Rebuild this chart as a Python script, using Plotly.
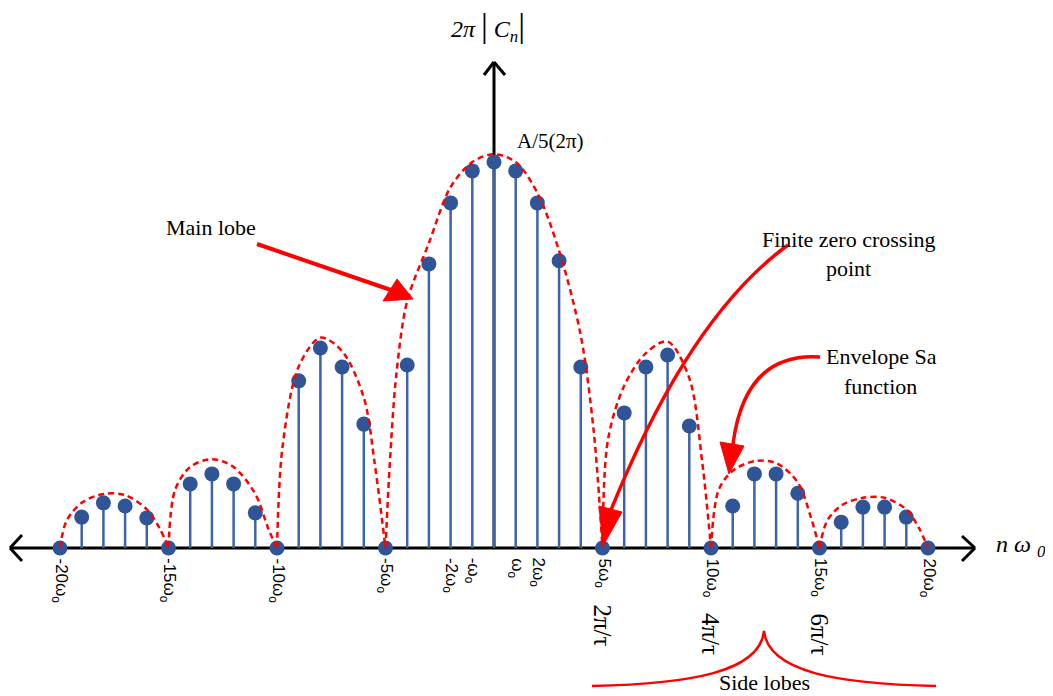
import plotly.graph_objects as go

# ---------------- data ----------------
harmonics = [-19, -18, -17, -16, -14, -13, -12, -11, -9, -8, -7, -6,
             -4, -3, -2, -1, 0, 1, 2, 3, 4,
             6, 7, 8, 9, 11, 12, 13, 14, 16, 17, 18, 19]
magnitudes = [0.080, 0.117, 0.109, 0.078, 0.166, 0.192, 0.166, 0.091,
              0.433, 0.518, 0.469, 0.321,
              0.474, 0.736, 0.894, 0.977, 1.000, 0.977, 0.894, 0.744, 0.469,
              0.350, 0.469, 0.500, 0.316, 0.109, 0.192, 0.192, 0.142,
              0.067, 0.106, 0.106, 0.080]
zero_crossings = [-20, -15, -10, -5, 5, 10, 15, 20]
zero_values = [0, 0, 0, 0, 0, 0, 0, 0]

# dashed envelope, one arc per lobe (n, value)
env_n = [
    [-20, -19.7, -19, -18, -17, -16, -15.4, -15],
    [-15, -14.7, -14, -13, -12, -11, -10.4, -10],
    [-10, -9.75, -9, -8, -7, -6, -5.5, -5],
    [-5, -4.8, -4.5, -4, -3, -2, -1, 0, 1, 2, 3, 4, 4.6, 5],
    [5, 5.25, 6, 7, 8, 9, 9.6, 10],
    [10, 10.35, 11, 12, 13, 14, 14.6, 15],
    [15, 15.35, 16, 17, 18, 19, 19.6, 20],
]
env_v = [
    [0, 0.07, 0.117, 0.140, 0.137, 0.100, 0.050, 0],
    [0, 0.15, 0.210, 0.230, 0.210, 0.140, 0.050, 0],
    [0, 0.26, 0.470, 0.545, 0.510, 0.390, 0.220, 0],
    [0, 0.22, 0.45, 0.64, 0.79, 0.935, 1.0, 1.02, 1.0, 0.92, 0.77, 0.55, 0.30, 0],
    [0, 0.28, 0.420, 0.505, 0.535, 0.440, 0.220, 0],
    [0, 0.15, 0.200, 0.225, 0.220, 0.170, 0.080, 0],
    [0, 0.07, 0.110, 0.130, 0.130, 0.100, 0.050, 0],
]

tick_values = [-20, -15, -10, -5, -2, -1, 1, 2, 5, 10, 15, 20]
tick_labels = ["-20ω<sub>o</sub>", "-15ω<sub>o</sub>", "-10ω<sub>o</sub>", "-5ω<sub>o</sub>",
               "-2ω<sub>o</sub>", "-ω<sub>o</sub>", "ω<sub>o</sub>", "2ω<sub>o</sub>",
               "5ω<sub>o</sub>", "10ω<sub>o</sub>", "15ω<sub>o</sub>", "20ω<sub>o</sub>"]
tau_values = [5, 10, 15]
tau_labels = ["2π/τ", "4π/τ", "6π/τ"]

# ---------------- layout geometry (page pixels) ----------------
PAGE_W, PAGE_H = 1053, 696
BODY = 8                 # default page margin around the plot div
W, H = PAGE_W - BODY, PAGE_H - BODY
X0, XU = 494.0, 21.7     # page pixel of n=0, pixels per harmonic
Y0, YU = 548.0, 386.0    # page pixel of zero level, pixels per unit


def nx(px):
    return (px - X0) / XU


def hy(py):
    return (Y0 - py) / YU


STEM = "#3C64A8"
DOT = "#2F5597"
RED = "#FF0000"
SERIF = "Liberation Serif"

fig = go.Figure()

# stems
sx, sy = [], []
for n, v in zip(harmonics, magnitudes):
    sx += [n, n, None]
    sy += [0, v, None]
fig.add_trace(go.Scatter(x=sx, y=sy, mode="lines",
                         line=dict(color=STEM, width=2.5), hoverinfo="skip"))
# dots
fig.add_trace(go.Scatter(x=harmonics, y=magnitudes, mode="markers",
                         marker=dict(color=DOT, size=15, line=dict(width=0))))
fig.add_trace(go.Scatter(x=zero_crossings, y=zero_values, mode="markers",
                         marker=dict(color=DOT, size=15, line=dict(width=0))))
# envelopes
for xs, ys in zip(env_n, env_v):
    fig.add_trace(go.Scatter(x=xs, y=ys, mode="lines",
                             line=dict(color=RED, width=2.5, dash="6px,4px",
                                       shape="spline", smoothing=0.9),
                             hoverinfo="skip"))

shapes = []


def P(p):
    return f"{nx(p[0]):.4f},{hy(p[1]):.4f}"


def line(p1, p2, color="black", width=3, layer="below"):
    shapes.append(dict(type="line", xref="x", yref="y",
                       x0=nx(p1[0]), y0=hy(p1[1]), x1=nx(p2[0]), y1=hy(p2[1]),
                       line=dict(color=color, width=width), layer=layer))


def curve(d, color, width):
    shapes.append(dict(type="path", xref="x", yref="y", path=d,
                       line=dict(color=color, width=width), layer="above"))


def triangle(a, b, c, color):
    shapes.append(dict(type="path", xref="x", yref="y",
                       path=f"M {P(a)} L {P(b)} L {P(c)} Z",
                       fillcolor=color, line=dict(color=color, width=1),
                       layer="above"))


# axes
line((10, 548), (975, 548))
line((494, 548), (494, 62))
# chevrons
line((22, 535), (10, 548)); line((10, 548), (22, 561))
line((962, 536), (975, 548)); line((975, 548), (962, 561))
line((484, 75), (494, 62)); line((494, 62), (505, 75))

# main lobe arrow
line((257, 244), (391, 290), color=RED, width=4, layer="above")
triangle((413, 299), (383, 301), (397, 279), RED)
# finite zero crossing arrow
curve(f"M {P((788, 245))} Q {P((689, 317))} {P((611, 510))}", RED, 3.5)
triangle((603, 546), (599, 506), (622, 512), RED)
# envelope arrow
curve(f"M {P((820, 357))} Q {P((745, 352))} {P((733, 444))}", RED, 3.5)
triangle((729, 474), (720, 442), (744, 446), RED)
# side lobes brace
curve(f"M {P((592, 686))} C {P((690, 684))} {P((760, 672))} {P((764, 631))} "
      f"C {P((768, 672))} {P((838, 684))} {P((936, 686))}", RED, 2.5)

annotations = []


def text(t, px, py, size, font=SERIF, xanchor="center", yanchor="middle", angle=0):
    annotations.append(dict(text=t, x=nx(px), y=hy(py), xref="x", yref="y",
                            showarrow=False, xanchor=xanchor, yanchor=yanchor,
                            textangle=angle,
                            font=dict(family=font, size=size, color="black")))


for v, t in zip(tick_values, tick_labels):
    annotations.append(dict(text=t, x=v, y=hy(556), xref="x", yref="y",
                            showarrow=False, xanchor="center", yanchor="top",
                            textangle=90,
                            font=dict(family="Liberation Sans", size=17, color="black")))
for v, t, top in zip(tau_values, tau_labels, [602, 611, 611]):
    annotations.append(dict(text=t, x=v, y=hy(top), xref="x", yref="y",
                            showarrow=False, xanchor="center", yanchor="top",
                            textangle=90,
                            font=dict(family=SERIF, size=25, color="black")))

text("<i>2π</i> <span style='font-size:34px'>|</span> <i>C<sub>n</sub></i>"
     "<span style='font-size:34px'>|</span>", 488, 26, 24)
text("A/5(2π)", 550, 141, 21)
text("<i>n ω <sub>0</sub></i>", 1021, 546, 24)
text("Main lobe", 211, 227, 22)
text("Finite zero crossing", 849, 239, 22)
text("point", 848, 268, 22)
text("Envelope Sa", 881, 356, 22)
text("function", 880, 386, 22)
text("Side lobes", 764, 682, 22)

fig.update_layout(
    width=W, height=H,
    margin=dict(l=0, r=0, t=0, b=0),
    paper_bgcolor="white", plot_bgcolor="white",
    showlegend=False,
    xaxis=dict(range=[nx(BODY), nx(PAGE_W)], visible=False, fixedrange=True),
    yaxis=dict(range=[hy(PAGE_H), hy(BODY)], visible=False, fixedrange=True),
    shapes=shapes,
    annotations=annotations,
)

fig.write_html("out.html")
